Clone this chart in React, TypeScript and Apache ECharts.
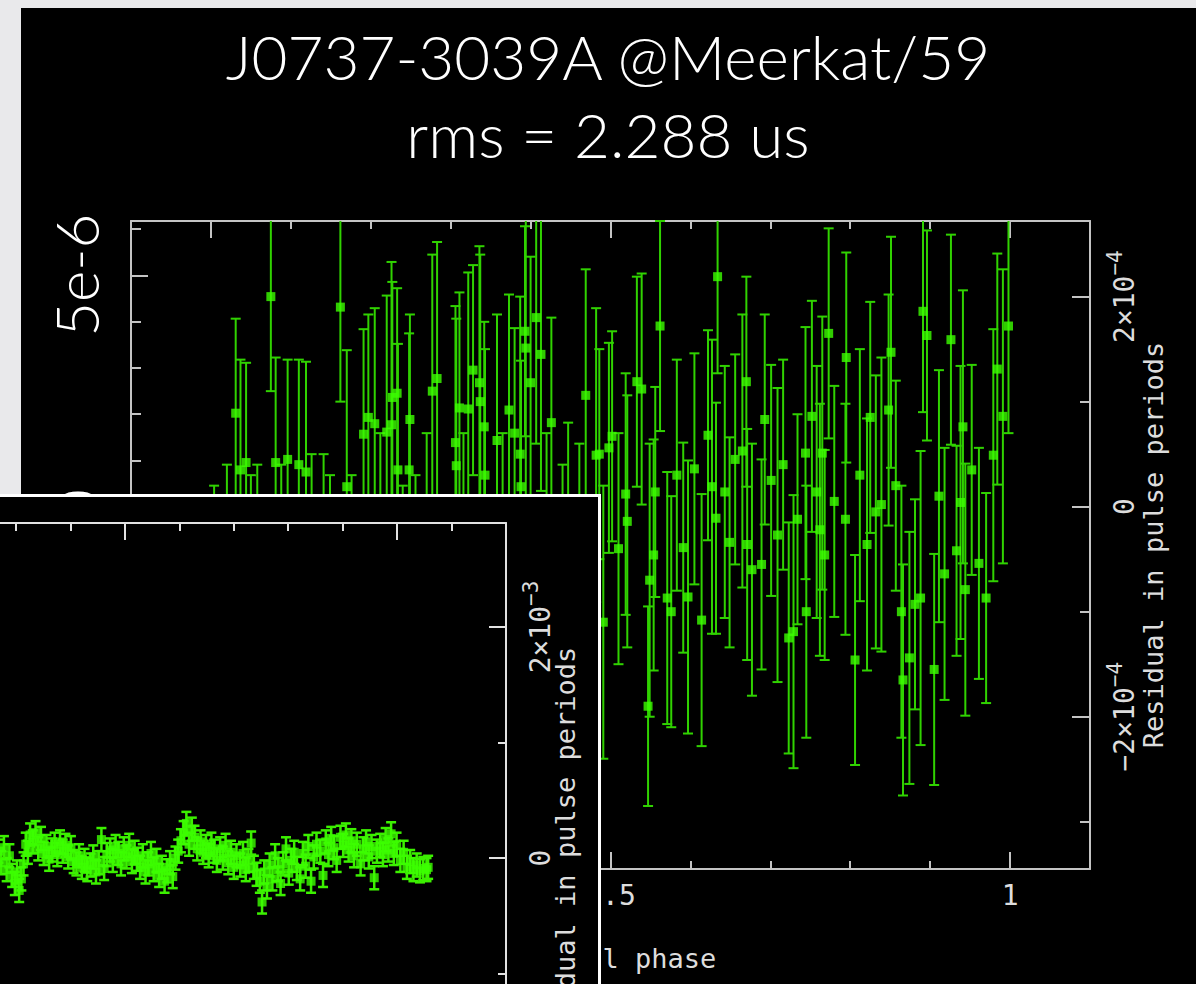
import React, { useEffect, useRef } from 'react';
import * as echarts from 'echarts';

// ---------------- texts ----------------
const TITLE_LINE_1 = 'J0737-3039A @Meerkat/59';
const TITLE_LINE_2 = 'rms = 2.288 us';
const RESIDUAL_NAME = 'Residual in pulse periods';
const PHASE_NAME = 'Orbital phase';
const PULSE_PERIOD_MS = 22.699;

// ---------------- main plot data (residuals in units of 1e-4 pulse periods) ----------------
const mainPhase = [
  0.004, 0.012, 0.020, 0.031, 0.037, 0.044, 0.050, 0.058, 0.066, 0.075,
  0.081, 0.088, 0.096, 0.103, 0.110, 0.119, 0.126, 0.134, 0.141, 0.149,
  0.162, 0.170, 0.176, 0.184, 0.191, 0.197, 0.205, 0.212, 0.220, 0.226,
  0.227, 0.233, 0.234, 0.240, 0.248, 0.249, 0.256, 0.263, 0.270, 0.277,
  0.283, 0.290, 0.296, 0.306, 0.307, 0.311, 0.316, 0.322, 0.328, 0.336,
  0.337, 0.342, 0.343, 0.350, 0.358, 0.365, 0.373, 0.380, 0.387, 0.388,
  0.393, 0.394, 0.400, 0.407, 0.413, 0.420, 0.426, 0.433, 0.440, 0.447,
  0.454, 0.461, 0.469, 0.475, 0.482, 0.486, 0.491, 0.498, 0.502, 0.510,
  0.519, 0.521, 0.533, 0.539, 0.547, 0.549, 0.554, 0.556, 0.562, 0.571,
  0.576, 0.583, 0.591, 0.597, 0.605, 0.614, 0.622, 0.627, 0.632, 0.634,
  0.643, 0.649, 0.656, 0.665, 0.670, 0.671, 0.677, 0.689, 0.693, 0.701,
  0.709, 0.716, 0.723, 0.729, 0.734, 0.744, 0.745, 0.752, 0.758, 0.762,
  0.765, 0.768, 0.773, 0.780, 0.794, 0.795, 0.806, 0.812, 0.821, 0.825,
  0.832, 0.839, 0.848, 0.851, 0.857, 0.864, 0.866, 0.874, 0.881, 0.888,
  0.891, 0.896, 0.905, 0.911, 0.918, 0.926, 0.933, 0.938, 0.941, 0.944,
  0.952, 0.961, 0.970, 0.979, 0.984, 0.991, 0.998,
];
const mainResidE4 = [
  -0.90, -1.60, -0.50, 0.89, 0.35, 0.42, -1.20, -0.60, -2.10, 2.00,
  0.42, -0.90, 0.45, -1.40, 0.40, 0.33, -0.70, -1.80, -0.40, -1.10,
  1.90, 0.19, -0.80, -1.50, 0.69, 0.85, 0.79, -0.60, 0.71, 0.78,
  1.04, 1.08, 0.35, -1.30, 0.35, 0.83, -0.90, -1.70, -0.30, 1.10,
  1.22, -1.00, -2.20, 0.61, 0.39, 0.94, -0.50, 0.93, 1.30, 1.18,
  1.00, 0.76, 0.30, -1.20, 0.63, -0.80, 0.92, 0.70, 0.50, 0.19,
  1.67, 1.51, 1.18, 1.80, 1.45, -0.40, 0.80, -1.60, -0.90, -0.20,
  -1.30, -0.60, 1.06, -2.00, 0.49, 0.50, -1.10, 0.56, 0.67, -0.40,
  0.12, -0.14, 1.19, 1.12, -1.90, -0.70, -0.46, 0.14, 1.72, -0.87,
  -1.00, 0.30, -0.39, -0.86, 0.36, -1.08, 0.68, 0.19, -0.11, 2.19,
  0.14, -0.34, 0.45, 0.53, 1.19, -0.36, -0.60, -0.55, 0.83, 0.25,
  -0.27, 0.40, -1.25, -1.19, -0.12, 0.51, -1.00, 0.86, 0.14, -0.22,
  0.51, -0.46, 1.65, 0.05, -0.12, 1.42, -1.46, 0.30, -0.36, 0.85,
  -0.05, 0.02, 0.92, 1.47, 0.20, -1.00, -1.65, -1.44, -0.93, -0.87,
  1.86, 1.63, -1.55, 0.10, -0.64, 1.59, -0.42, 0.04, 0.76, -0.79,
  0.35, -0.54, -0.87, 0.49, 1.31, 0.86, 1.72,
];
const mainErrE4 = [
  1.10, 1.30, 0.90, 0.90, 1.05, 0.95, 1.50, 1.00, 1.40, 0.90,
  1.00, 1.30, 0.95, 1.20, 1.00, 1.05, 1.20, 1.60, 0.90, 1.40,
  0.90, 1.30, 1.10, 1.20, 1.00, 0.98, 1.10, 1.30, 1.30, 1.55,
  1.10, 1.00, 1.20, 1.50, 1.30, 1.00, 1.20, 1.50, 1.00, 1.30,
  1.30, 1.10, 1.40, 1.30, 1.40, 1.10, 1.20, 1.30, 1.00, 1.30,
  1.40, 1.00, 1.20, 1.30, 1.20, 1.50, 1.10, 1.00, 1.50, 1.20,
  1.00, 1.40, 1.20, 1.20, 1.30, 1.10, 1.00, 1.40, 1.30, 1.00,
  1.10, 1.20, 1.20, 1.50, 1.40, 1.00, 1.30, 1.00, 1.00, 1.10,
  1.15, 1.20, 1.00, 1.10, 0.95, 1.30, 1.10, 1.00, 1.00, 1.20,
  1.10, 1.10, 1.00, 1.30, 1.10, 1.20, 1.00, 1.40, 1.10, 0.92,
  1.20, 1.00, 1.00, 1.30, 1.00, 1.10, 1.20, 1.00, 1.00, 1.10,
  1.40, 1.00, 1.10, 1.30, 1.00, 1.20, 1.20, 1.10, 1.20, 1.20,
  1.30, 1.00, 1.00, 1.10, 1.10, 1.00, 1.00, 1.20, 1.20, 1.10,
  1.30, 1.40, 1.10, 1.10, 1.00, 1.20, 1.10, 1.20, 1.00, 1.40,
  0.96, 1.00, 1.10, 1.20, 1.20, 1.00, 1.00, 1.30, 1.30, 1.20,
  1.00, 1.10, 1.00, 1.20, 1.10, 1.40, 1.02,
];

// main axes
const PHASE_MIN = -0.1;
const PHASE_MAX = 1.1;
const phaseMajorTicks = [0, 0.5, 1];
const phaseMinorTicks = [0.1, 0.2, 0.3, 0.4, 0.6, 0.7, 0.8, 0.9];
const RES_MIN_E4 = -3.45;
const RES_MAX_E4 = 2.72;
const resMajorTicksE4 = [-2, 0, 2];
const resMinorTicksE4 = [-3, -1, 1];
const timeMajorTicksUs = [-5, 0, 5];
const timeMinorTicksUs = [-7, -6, -4, -3, -2, -1, 1, 2, 3, 4, 6];

// ---------------- inset data (residuals in units of 1e-3 pulse periods) ----------------
const insetMjd = [
  58205, 58212, 58219, 58226, 58233, 58240, 58247, 58254, 58261, 58268,
  58273, 58278, 58283, 58288, 58293, 58298, 58302, 58306, 58310, 58314,
  58318, 58322, 58326, 58331, 58336, 58341, 58346, 58351, 58356, 58361,
  58366, 58371, 58376, 58381, 58386, 58391, 58396, 58401, 58406, 58411,
  58416, 58421, 58426, 58431, 58437, 58442, 58447, 58452, 58457, 58462,
  58467, 58473, 58478, 58483, 58488, 58493, 58498, 58503, 58508, 58513,
  58518, 58523, 58528, 58533, 58538, 58543, 58548, 58553, 58558, 58563,
  58568, 58573, 58578, 58583, 58588, 58593, 58598, 58603, 58608, 58613,
  58618, 58623, 58628, 58633, 58639, 58644, 58649, 58654, 58659, 58664,
  58669, 58675, 58680, 58685, 58690, 58695, 58700, 58705, 58712, 58717,
  58722, 58727, 58732, 58737, 58742, 58748, 58752, 58756, 58761, 58766,
  58771, 58776, 58781, 58786, 58791, 58796, 58801, 58806, 58811, 58816,
  58822, 58827, 58832, 58837, 58842, 58847, 58852, 58859, 58864, 58869,
  58874, 58879, 58884, 58889, 58896, 58901, 58906, 58911, 58916, 58921,
  58926, 58933, 58938, 58943, 58948, 58953, 58958, 58963, 58969, 58974,
  58979, 58984, 58989, 58994, 58999, 59006, 59012, 59018, 59024, 59030,
  59036, 59042, 59048, 59054, 59057,
];
const insetResE3 = [
  0.02, -0.06, 0.04, -0.03, 0.08, -0.01, 0.05, -0.07, 0.01, 0.06,
  -0.04, 0.09, -0.10, 0.02, -0.15, -0.22, -0.12, -0.28, -0.18, -0.05,
  0.12, 0.05, 0.20, 0.14, 0.22, 0.08, 0.17, 0.04, 0.10, -0.01,
  0.07, 0.12, 0.03, 0.14, 0.06, 0.11, 0.01, 0.09, -0.03, -0.05,
  0.02, -0.08, -0.02, -0.10, -0.06, 0.01, -0.12, -0.04, 0.16, -0.09,
  0.03, 0.07, -0.02, 0.10, 0.04, -0.05, 0.08, 0.01, 0.11, -0.03,
  0.05, -0.01, -0.08, 0.02, -0.12, -0.05, 0.04, -0.10, -0.02, -0.15,
  -0.08, -0.20, -0.11, -0.04, -0.16, 0.00, 0.06, 0.15, 0.22, 0.30,
  0.12, 0.25, 0.18, 0.08, 0.14, 0.05, 0.10, 0.02, 0.12, 0.06,
  -0.02, 0.08, 0.00, 0.11, -0.04, 0.05, -0.08, 0.02, -0.06, 0.04,
  -0.10, -0.02, 0.13, -0.08, -0.14, -0.20, -0.38, -0.12, -0.25, -0.06,
  -0.18, 0.02, -0.10, -0.22, -0.05, 0.08, -0.13, -0.02, 0.05, -0.09,
  -0.18, 0.04, -0.07, 0.10, -0.20, 0.01, 0.12, 0.06, -0.15, 0.14,
  0.03, 0.17, 0.09, -0.02, 0.18, 0.11, 0.20, 0.07, 0.15, 0.02,
  0.12, -0.05, 0.08, 0.14, 0.01, 0.10, -0.17, 0.06, 0.11, 0.03,
  0.16, 0.07, 0.21, 0.04, 0.12, -0.02, 0.05, -0.08, -0.03, -0.10,
  -0.06, -0.11, -0.09, -0.10, -0.08,
];
const INSET_ERR_E3 = 0.1;

const INSET_MJD_MIN = 57830;
const INSET_MJD_MAX = 59200;
const mjdMajorTicks = [58000, 58500, 59000];
const mjdMinorTicks = [57900, 58100, 58200, 58300, 58400, 58600, 58700, 58800, 58900, 59100];
const INSET_RES_MIN_E3 = -2.76;
const INSET_RES_MAX_E3 = 2.9;
const insetResMajorTicksE3 = [-2, 0, 2];
const insetResLabelTicksE3 = [0, 2];
const insetResMinorTicksE3 = [-1, 1];

// ---------------- styles ----------------
const MAIN_AXIS_COLOR = '#c4c4c4';
const INSET_AXIS_COLOR = '#e2e2e2';
const LABEL_COLOR = '#dddddd';
const LABEL_FONT = '"DejaVu Sans Mono", monospace';
const TITLE_FONT = 'Lato, "Open Sans", sans-serif';
const MARKER_GREEN = '#3cff00';
const BAR_GREEN_MAIN = '#30d200';
const BAR_GREEN_INSET = '#3cf000';

function baseAxis(position: string, min: number, max: number): any {
  return {
    type: 'value',
    gridIndex: 0,
    position,
    min,
    max,
    scale: false,
    splitLine: { show: false },
    axisLine: { show: false, onZero: false },
    axisTick: { show: false },
    axisLabel: { show: false },
    nameMoveOverlap: false,
  };
}

function withLine(a: any, color: string) {
  a.axisLine = { show: true, onZero: false, lineStyle: { color, width: 2 } };
  return a;
}

function withTicks(a: any, values: number[], length: number, color: string) {
  a.axisTick = { show: true, inside: true, length, customValues: values, lineStyle: { color, width: 2 } };
  return a;
}

function periodsLabelFormatter(exp: string) {
  return (v: number) => {
    if (Math.abs(v) < 1e-9) return '{n|0}';
    const sign = v < 0 ? '−' : '';
    return `{n|${sign}${Math.abs(v)}×10}{s|−${exp}}`;
  };
}

const periodsRich = {
  n: { fontFamily: LABEL_FONT, fontSize: 28, color: LABEL_COLOR, lineHeight: 34, verticalAlign: 'bottom' },
  s: { fontFamily: LABEL_FONT, fontSize: 21, color: LABEL_COLOR, lineHeight: 20, verticalAlign: 'top' },
};

function errorBarRenderer(color: string, capHalf: number, lineWidth: number) {
  return (params: any, api: any) => {
    const x = api.value(0);
    const y = api.value(1);
    const e = api.value(2);
    const cs = params.coordSys;
    const top = api.coord([x, y + e]);
    const bot = api.coord([x, y - e]);
    const yTop = Math.max(top[1], cs.y);
    const yBot = Math.min(bot[1], cs.y + cs.height);
    const style = { stroke: color, lineWidth };
    const children: any[] = [];
    if (yBot > yTop) {
      children.push({ type: 'line', shape: { x1: top[0], y1: yTop, x2: top[0], y2: yBot }, style });
    }
    if (top[1] >= cs.y && top[1] <= cs.y + cs.height) {
      children.push({ type: 'line', shape: { x1: top[0] - capHalf, y1: top[1], x2: top[0] + capHalf, y2: top[1] }, style });
    }
    if (bot[1] <= cs.y + cs.height && bot[1] >= cs.y) {
      children.push({ type: 'line', shape: { x1: bot[0] - capHalf, y1: bot[1], x2: bot[0] + capHalf, y2: bot[1] }, style });
    }
    return { type: 'group', children };
  };
}

function buildMainOption(): any {
  const usPerE4 = PULSE_PERIOD_MS * 0.1; // 1e-4 periods expressed in microseconds
  const errData = mainPhase.map((p, i) => [p, mainResidE4[i], mainErrE4[i]]);
  const ptData = mainPhase.map((p, i) => [p, mainResidE4[i]]);

  const xBottom = withTicks(withLine(baseAxis('bottom', PHASE_MIN, PHASE_MAX), MAIN_AXIS_COLOR), phaseMajorTicks, 17, MAIN_AXIS_COLOR);
  xBottom.axisLabel = {
    show: true,
    customValues: phaseMajorTicks,
    margin: 12,
    color: LABEL_COLOR,
    fontFamily: LABEL_FONT,
    fontSize: 28,
    formatter: (v: number) => String(v),
  };
  xBottom.name = PHASE_NAME;
  xBottom.nameLocation = 'middle';
  xBottom.nameGap = 76;
  xBottom.nameTextStyle = { color: LABEL_COLOR, fontFamily: LABEL_FONT, fontSize: 27 };

  const xBottomMinor = withTicks(baseAxis('bottom', PHASE_MIN, PHASE_MAX), phaseMinorTicks, 8, MAIN_AXIS_COLOR);
  const xTop = withTicks(withLine(baseAxis('top', PHASE_MIN, PHASE_MAX), MAIN_AXIS_COLOR), phaseMajorTicks, 17, MAIN_AXIS_COLOR);
  const xTopMinor = withTicks(baseAxis('top', PHASE_MIN, PHASE_MAX), phaseMinorTicks, 8, MAIN_AXIS_COLOR);

  const yRight = withTicks(withLine(baseAxis('right', RES_MIN_E4, RES_MAX_E4), MAIN_AXIS_COLOR), resMajorTicksE4, 18, MAIN_AXIS_COLOR);
  yRight.axisLabel = {
    show: true,
    customValues: resMajorTicksE4,
    rotate: 90,
    margin: 14,
    formatter: periodsLabelFormatter('4'),
    rich: periodsRich,
  };
  yRight.name = RESIDUAL_NAME;
  yRight.nameLocation = 'middle';
  yRight.nameRotate = 90;
  yRight.nameGap = 50;
  yRight.nameTextStyle = { color: LABEL_COLOR, fontFamily: LABEL_FONT, fontSize: 27 };

  const yRightMinor = withTicks(baseAxis('right', RES_MIN_E4, RES_MAX_E4), resMinorTicksE4, 10, MAIN_AXIS_COLOR);

  const yLeft = withTicks(
    withLine(baseAxis('left', RES_MIN_E4 * usPerE4, RES_MAX_E4 * usPerE4), MAIN_AXIS_COLOR),
    timeMajorTicksUs, 17, MAIN_AXIS_COLOR,
  );
  yLeft.axisLabel = {
    show: true,
    customValues: timeMajorTicksUs,
    rotate: 90,
    margin: 25,
    color: '#ffffff',
    fontFamily: TITLE_FONT,
    fontWeight: 300,
    fontSize: 60,
    lineHeight: 60,
    formatter: (v: number) => (Math.abs(v) < 1e-9 ? '0' : `${v}e-6`),
  };
  const yLeftMinor = withTicks(
    baseAxis('left', RES_MIN_E4 * usPerE4, RES_MAX_E4 * usPerE4),
    timeMinorTicksUs, 10, MAIN_AXIS_COLOR,
  );

  return {
    animation: false,
    backgroundColor: '#000000',
    grid: [{ left: 110, top: 213, width: 959, height: 648, containLabel: false, outerBoundsMode: 'none' }],
    graphic: [
      {
        type: 'text', x: 587, y: 48, silent: true,
        style: { text: TITLE_LINE_1, fill: '#ffffff', fontFamily: TITLE_FONT, fontWeight: 300, fontSize: 62, align: 'center', verticalAlign: 'middle' },
      },
      {
        type: 'text', x: 587, y: 126, silent: true,
        style: { text: TITLE_LINE_2, fill: '#ffffff', fontFamily: TITLE_FONT, fontWeight: 300, fontSize: 62, align: 'center', verticalAlign: 'middle' },
      },
    ],
    xAxis: [xBottom, xBottomMinor, xTop, xTopMinor],
    yAxis: [yRight, yRightMinor, yLeft, yLeftMinor],
    series: [
      {
        type: 'custom',
        xAxisIndex: 0,
        yAxisIndex: 0,
        renderItem: errorBarRenderer(BAR_GREEN_MAIN, 5, 2),
        data: errData,
        silent: true,
        z: 2,
      },
      {
        type: 'scatter',
        xAxisIndex: 0,
        yAxisIndex: 0,
        symbol: 'rect',
        symbolSize: 9,
        itemStyle: { color: MARKER_GREEN },
        data: ptData,
        silent: true,
        z: 3,
      },
    ],
  };
}

function buildInsetOption(): any {
  const errData = insetMjd.map((m, i) => [m, insetResE3[i], INSET_ERR_E3]);
  const ptData = insetMjd.map((m, i) => [m, insetResE3[i]]);

  const xBottom = withTicks(withLine(baseAxis('bottom', INSET_MJD_MIN, INSET_MJD_MAX), INSET_AXIS_COLOR), mjdMajorTicks, 17, INSET_AXIS_COLOR);
  const xBottomMinor = withTicks(baseAxis('bottom', INSET_MJD_MIN, INSET_MJD_MAX), mjdMinorTicks, 8, INSET_AXIS_COLOR);
  const xTop = withTicks(withLine(baseAxis('top', INSET_MJD_MIN, INSET_MJD_MAX), INSET_AXIS_COLOR), mjdMajorTicks, 17, INSET_AXIS_COLOR);
  const xTopMinor = withTicks(baseAxis('top', INSET_MJD_MIN, INSET_MJD_MAX), mjdMinorTicks, 8, INSET_AXIS_COLOR);

  const yRight = withTicks(withLine(baseAxis('right', INSET_RES_MIN_E3, INSET_RES_MAX_E3), INSET_AXIS_COLOR), insetResMajorTicksE3, 17, INSET_AXIS_COLOR);
  yRight.axisLabel = {
    show: true,
    customValues: insetResLabelTicksE3,
    rotate: 90,
    margin: 14,
    formatter: periodsLabelFormatter('3'),
    rich: periodsRich,
  };
  yRight.name = RESIDUAL_NAME;
  yRight.nameLocation = 'middle';
  yRight.nameRotate = 90;
  yRight.nameGap = 46;
  yRight.nameTextStyle = { color: LABEL_COLOR, fontFamily: LABEL_FONT, fontSize: 27 };
  const yRightMinor = withTicks(baseAxis('right', INSET_RES_MIN_E3, INSET_RES_MAX_E3), insetResMinorTicksE3, 8, INSET_AXIS_COLOR);
  const yLeft = withTicks(withLine(baseAxis('left', INSET_RES_MIN_E3, INSET_RES_MAX_E3), INSET_AXIS_COLOR), insetResMajorTicksE3, 17, INSET_AXIS_COLOR);
  const yLeftMinor = withTicks(baseAxis('left', INSET_RES_MIN_E3, INSET_RES_MAX_E3), insetResMinorTicksE3, 8, INSET_AXIS_COLOR);

  return {
    animation: false,
    backgroundColor: '#000000',
    grid: [{ left: 60, top: 26, width: 746, height: 654, containLabel: false, outerBoundsMode: 'none' }],
    xAxis: [xBottom, xBottomMinor, xTop, xTopMinor],
    yAxis: [yRight, yRightMinor, yLeft, yLeftMinor],
    series: [
      {
        type: 'custom',
        xAxisIndex: 0,
        yAxisIndex: 0,
        renderItem: errorBarRenderer(BAR_GREEN_INSET, 5, 2.5),
        data: errData,
        silent: true,
        z: 2,
      },
      {
        type: 'scatter',
        xAxisIndex: 0,
        yAxisIndex: 0,
        symbol: 'rect',
        symbolSize: 9,
        itemStyle: { color: MARKER_GREEN },
        data: ptData,
        silent: true,
        z: 3,
      },
    ],
  };
}

export default function App() {
  const mainRef = useRef<HTMLDivElement>(null);
  const insetRef = useRef<HTMLDivElement>(null);

  useEffect(() => {
    const main = echarts.init(mainRef.current as HTMLDivElement, null, { renderer: 'svg' });
    main.setOption(buildMainOption());
    const inset = echarts.init(insetRef.current as HTMLDivElement, null, { renderer: 'svg' });
    inset.setOption(buildInsetOption());
    return () => {
      main.dispose();
      inset.dispose();
    };
  }, []);

  return (
    <div
      style={{
        position: 'fixed', left: 0, top: 0, width: 1196, height: 984,
        overflow: 'hidden', background: '#e9e9eb',
      }}
    >
      <div
        ref={mainRef}
        style={{ position: 'absolute', left: 21, top: 8, width: 1175, height: 976, background: '#000' }}
      />
      <div
        style={{
          position: 'absolute', left: -300, top: 494, width: 898, height: 757,
          background: '#000', borderTop: '3px solid #ffffff', borderRight: '3px solid #ffffff',
        }}
      >
        <div ref={insetRef} style={{ width: 898, height: 757 }} />
      </div>
    </div>
  );
}
